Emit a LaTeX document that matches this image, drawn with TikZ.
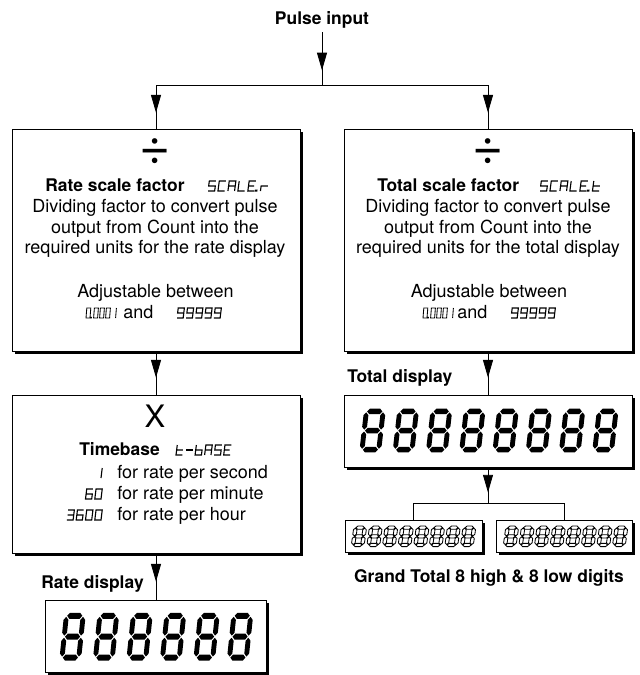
\documentclass[tikz,border=0pt]{standalone}
\usepackage{fontspec}
\setmainfont{TeX Gyre Heros}
\usetikzlibrary{positioning, arrows.meta, calc, shadows, decorations.markings}

% segment glyphs on a 1 x 2 cell, and the advance to the next cell
\newcommand{\lcddef}[3]{%
  \expandafter\def\csname lcdg#1\endcsname{#2}%
  \expandafter\def\csname lcda#1\endcsname{#3}}
\lcddef{S}{(1,2) -- (0,2) -- (0,1) -- (1,1) -- (1,0) -- (0,0)}{1.5}
\lcddef{C}{(1,2) -- (0,2) -- (0,0) -- (1,0)}{1.5}
\lcddef{A}{(0,0) -- (0,2) -- (1,2) -- (1,0) (0,1) -- (1,1)}{1.5}
\lcddef{L}{(0,2) -- (0,0) -- (1,0)}{1.5}
\lcddef{E}{(1,2) -- (0,2) -- (0,0) -- (1,0) (0,1) -- (0.85,1)}{1.5}
\lcddef{r}{(0,0) -- (0,1) -- (1,1)}{1.5}
\lcddef{t}{(0,2) -- (0,0) -- (1,0) (0,1) -- (1,1)}{1.5}
\lcddef{b}{(0,2) -- (0,0) -- (1,0) -- (1,1) -- (0,1)}{1.5}
\lcddef{-}{(0,1) -- (1,1)}{1.5}
\lcddef{dot}{(-0.38,0) rectangle (-0.15,0.16)}{0.4}
\lcddef{0}{(0,0) rectangle (1,2)}{1.5}
\lcddef{1}{(1,2) -- (1,0)}{1.5}
\lcddef{3}{(0,2) -- (1,2) -- (1,0) -- (0,0) (0,1) -- (1,1)}{1.5}
\lcddef{6}{(1,2) -- (0,2) -- (0,0) -- (1,0) -- (1,1) -- (0,1)}{1.5}
\lcddef{9}{(0,0) -- (1,0) -- (1,2) -- (0,2) -- (0,1) -- (1,1)}{1.5}

\tikzset{
  pics/lcd/.style={code={
    \gdef\lcdpos{0}
    \foreach \ch in {#1}{
      \expandafter\let\expandafter\lcdpath\csname lcdg\ch\endcsname
      \draw[shift={(\lcdpos,0)}] \lcdpath;
      \pgfmathsetmacro\lcdnext{\lcdpos+\csname lcda\ch\endcsname}
      \xdef\lcdpos{\lcdnext}
    }
  }},
  pics/seg8/.style={code={
    \foreach \y in {0,1,2}
      \path[seg ink] (0.05,\y) -- ++(#1,#1) -- ++(0.9-2*#1,0) -- ++(#1,-#1)
        -- ++(-#1,-#1) -- ++(-0.9+2*#1,0) -- cycle;
    \foreach \x in {0,1}
      \foreach \y in {0,1}
        \path[seg ink] (\x,\y+0.05) -- ++(#1,#1) -- ++(0,0.9-2*#1) -- ++(-#1,#1)
          -- ++(-#1,-#1) -- ++(0,-0.9+2*#1) -- cycle;
  }},
  seg ink/.style={fill=black},
}

\begin{document}
\begin{tikzpicture}[
  box/.style={draw, fill=white, line width=0.6pt, inner sep=0pt,
              drop shadow={shadow xshift=0.07cm, shadow yshift=-0.07cm,
                           opacity=1, fill=black}},
  hd/.style={font=\fontsize{12.4}{14.7}\selectfont\bfseries, inner sep=0pt},
  txt/.style={font=\fontsize{12.8}{14.7}\selectfont, inner sep=0pt, align=center},
  conn/.style={line width=0.6pt},
  midarr/.style={postaction={decorate}, decoration={markings,
      mark=at position #1 with {\arrow{Triangle[length=0.44cm, width=0.25cm]}}}},
  lcdsmall/.style={xscale=#1, yscale=0.125, xslant=0.1, line width=0.8pt},
  lcdsmall/.default=0.16,
  bigdigit/.style={xscale=0.42, yscale=#1, xslant=0.13},
  smalldigit/.style={xscale=0.2325, yscale=0.217, xslant=0.13,
                     seg ink/.style={draw, line width=0.6pt}},
  divsign/.style={font=\fontsize{38}{38}\selectfont, inner sep=0pt},
]
  \useasboundingbox (0,0) rectangle (16,-16.875);

  % boxes
  \node[box, minimum width=7.2cm, minimum height=5.55cm] (rsf) at (3.9,-6) {};
  \node[box, minimum width=7.2cm, minimum height=5.55cm] (tsf) at (12.2,-6) {};
  \node[box, minimum width=7.2cm, minimum height=3.95cm] (tb) at (3.9,-11.85) {};
  \node[box, minimum width=5.525cm, minimum height=1.8cm] (rd) at (3.9,-15.9) {};
  \node[box, minimum width=7.2cm, minimum height=1.8cm] (td) at (12.2,-10.775) {};
  \node[box, minimum width=3.425cm, minimum height=0.8cm] (gtl) at (10.3375,-13.4) {};
  \node[box, minimum width=3.4cm, minimum height=0.8cm] (gth) at (14.1,-13.4) {};

  % labels outside the boxes
  \node[hd, anchor=base, inner ysep=3pt] (pulse) at (8.05,-0.6) {Pulse input};
  \node[hd, anchor=base east] (ratelbl) at (3.6,-14.7) {Rate display};
  \node[hd, anchor=base west] (totlbl) at (8.675,-9.55) {Total display};
  \node[hd, anchor=base] (gtlbl) at (12.225,-14.55) {Grand Total 8 high \& 8 low digits};

  % rate scale factor
  \node[divsign] (rdiv) at (3.875,-3.8) {÷};
  \node[hd, anchor=base west] (rsfhd) at (1.125,-4.775) {Rate scale factor};
  \pic[shift={(5.2,-4.775)}, lcdsmall=0.166] {lcd={S,C,A,L,E,dot,r}};
  \node[txt, anchor=north] (rsfdesc) at (3.875,-4.98)
    {Dividing factor to convert pulse\\output from Count into the\\required units for the rate display};
  \node[txt, anchor=base] (rsfadj) at (3.8875,-7.425) {Adjustable between};
  \node[txt, anchor=base] (rsfand) at (3.46,-7.95) {and};
  \pic[shift={(2.15,-7.95)}, lcdsmall=0.1, line width=0.6pt] {lcd={0,dot,0,0,0,1}};
  \pic[shift={(4.425,-7.95)}, lcdsmall=0.154] {lcd={9,9,9,9,9}};

  % total scale factor
  \node[divsign] (tdiv) at (12.2,-3.8) {÷};
  \node[hd, anchor=base west] (tsfhd) at (9.425,-4.775) {Total scale factor};
  \pic[shift={(13.5,-4.775)}, lcdsmall=0.166] {lcd={S,C,A,L,E,dot,t}};
  \node[txt, anchor=north] (tsfdesc) at (12.2,-4.98)
    {Dividing factor to convert pulse\\output from Count into the\\required units for the total display};
  \node[txt, anchor=base] (tsfadj) at (12.225,-7.425) {Adjustable between};
  \node[txt, anchor=base] (tsfand) at (11.81,-7.95) {and};
  \pic[shift={(10.575,-7.95)}, lcdsmall=0.1, line width=0.6pt] {lcd={0,dot,0,0,0,1}};
  \pic[shift={(12.775,-7.95)}, lcdsmall=0.154] {lcd={9,9,9,9,9}};

  % timebase
  \node[font=\fontsize{22}{22}\selectfont, inner sep=0pt] (tbx) at (3.875,-10.4) {X};
  \node[hd, anchor=base west] (tbhd) at (1.975,-11.375) {Timebase};
  \pic[shift={(4.4,-11.375)}, lcdsmall=0.159] {lcd={t,-,b,A,S,E}};
  \node[txt, anchor=base west] (tbsec) at (2.925,-11.95) {for rate per second};
  \node[txt, anchor=base west] (tbmin) at (2.925,-12.475) {for rate per minute};
  \node[txt, anchor=base west] (tbhr) at (2.925,-13.0) {for rate per hour};
  \pic[shift={(2.37,-11.95)}, lcdsmall=0.155] {lcd={1}};
  \pic[shift={(2.1375,-12.475)}, lcdsmall=0.155] {lcd={6,0}};
  \pic[shift={(1.6725,-13.0)}, lcdsmall=0.155] {lcd={3,6,0,0}};

  % displays
  \foreach \i in {0,...,5}
    \pic[shift={(1.55+\i*0.8375,-16.44)}, bigdigit=0.5225] {seg8=0.145};
  \foreach \i in {0,...,7}
    \pic[shift={(9.05+\i*0.8315,-11.2425)}, bigdigit=0.478] {seg8=0.145};
  \foreach \i in {0,...,7} {
    \pic[shift={(8.8275+\i*0.39,-13.625)}, smalldigit] {seg8=0.19};
    \pic[shift={(12.6275+\i*0.39,-13.625)}, smalldigit] {seg8=0.19};
  }

  % connectors
  \coordinate (split) at (8.05,-2.125);
  \coordinate (split2) at (12.2,-12.575);
  \draw[conn, midarr=0.95cm] (pulse) -- (split);
  \draw[conn, midarr=-0.4cm] (split) -| (rsf.north);
  \draw[conn, midarr=-0.4cm] (split) -| (tsf.north);
  \draw[conn, midarr=-0.425cm] (rsf) -- (tb);
  \draw[conn, midarr=-0.45cm] (tb) -- (rd);
  \draw[conn, midarr=-0.425cm] (tsf) -- (td);
  \draw[conn, midarr=0.625cm] (td) -- (split2);
  \draw[conn] (split2) -| (gtl.north);
  \draw[conn] (split2) -| (gth.north);
\end{tikzpicture}
\end{document}
